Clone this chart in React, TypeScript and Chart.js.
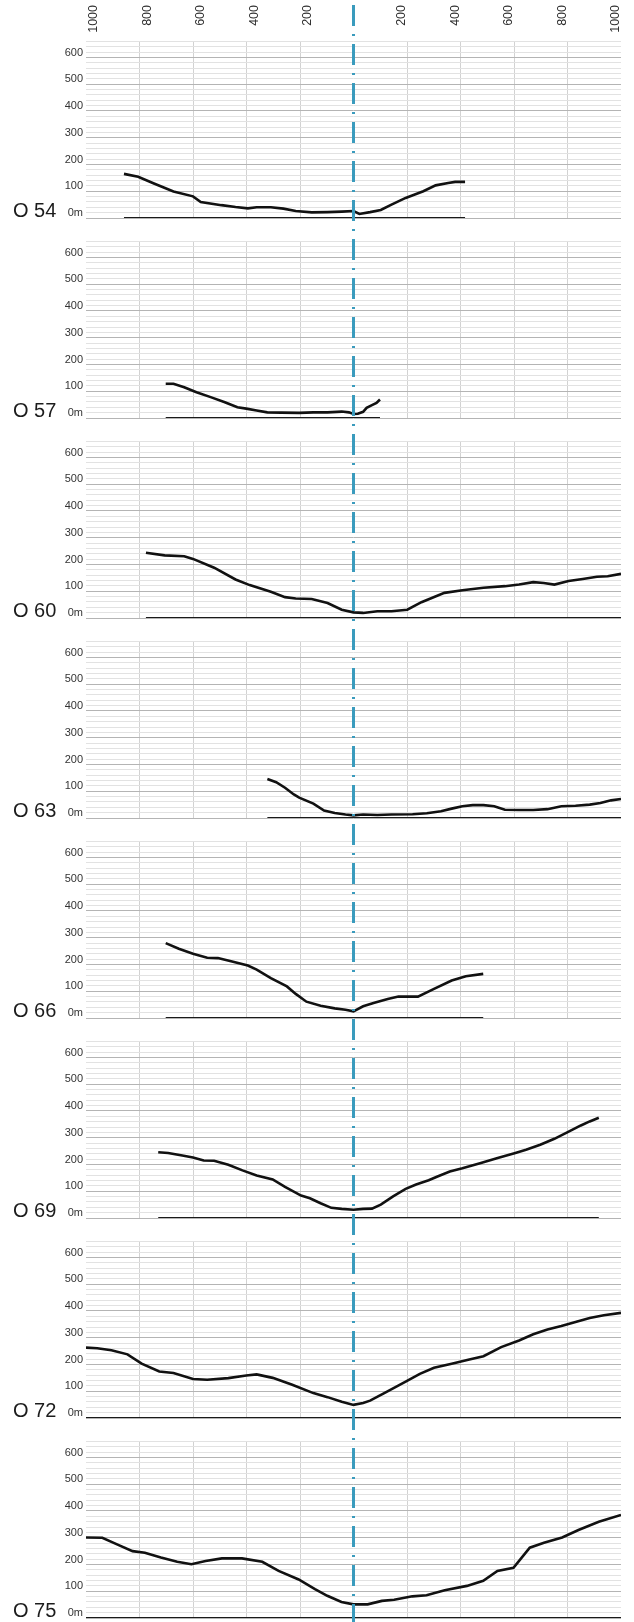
import React, { useEffect, useRef } from "react";
import { Chart, registerables } from "chart.js";

Chart.register(...registerables);

// ---- data ----
const sectionNames = ["O 54", "O 57", "O 60", "O 63", "O 66", "O 69", "O 72", "O 75"];
const distanceTicks = [-1000, -800, -600, -400, -200, 200, 400, 600, 800, 1000];

const o54Dist = [-858, -805, -746, -673, -600, -571, -494, -441, -395, -362, -309, -262, -216, -156, -97, -44, 0, 22, 62, 102, 142, 195, 261, 307, 354, 380, 417];
const o54Elev = [165, 154, 129, 99, 81, 60, 48, 41, 36, 40, 40, 35, 26, 21, 22, 24, 26, 15, 22, 30, 50, 75, 100, 122, 131, 135, 135];

const o57Dist = [-702, -673, -633, -587, -534, -481, -434, -401, -362, -322, -269, -203, -150, -97, -44, -17, 0, 16, 36, 49, 69, 86, 99];
const o57Elev = [128, 128, 115, 96, 78, 59, 40, 35, 28, 21, 20, 19, 21, 21, 24, 21, 15, 16, 23, 38, 48, 56, 69];

const o60Dist = [-776, -706, -633, -600, -521, -441, -388, -309, -256, -216, -156, -97, -44, 0, 36, 89, 142, 201, 254, 340, 407, 486, 566, 619, 672, 711, 751, 804, 857, 910, 950, 1000];
const o60Elev = [244, 234, 231, 221, 188, 144, 123, 98, 78, 73, 71, 56, 31, 21, 19, 25, 25, 31, 59, 94, 104, 113, 119, 125, 134, 131, 125, 138, 146, 154, 156, 165];

const o63Dist = [-322, -289, -256, -223, -203, -150, -110, -70, -30, 0, 36, 89, 142, 221, 274, 327, 367, 407, 446, 486, 526, 566, 619, 672, 725, 777, 830, 883, 923, 963, 1000];
const o63Elev = [146, 134, 113, 88, 76, 54, 28, 19, 13, 10, 13, 11, 13, 14, 18, 25, 35, 44, 48, 48, 44, 31, 30, 30, 33, 44, 46, 50, 56, 66, 71];

const o66Dist = [-702, -653, -600, -547, -507, -454, -395, -362, -309, -249, -216, -176, -123, -70, -30, 0, 36, 75, 128, 168, 241, 301, 367, 420, 485];
const o66Elev = [280, 259, 240, 225, 224, 211, 196, 181, 149, 118, 90, 61, 46, 36, 31, 25, 44, 56, 71, 80, 80, 109, 140, 156, 165];

const o69Dist = [-730, -693, -640, -600, -560, -521, -468, -415, -362, -302, -256, -196, -163, -123, -83, -44, 0, 36, 69, 102, 148, 195, 234, 281, 314, 360, 407, 473, 539, 605, 645, 698, 751, 797, 850, 883, 917];
const o69Elev = [246, 243, 234, 226, 215, 214, 199, 178, 159, 144, 116, 84, 74, 55, 38, 34, 31, 34, 35, 50, 81, 109, 125, 141, 155, 174, 186, 205, 224, 243, 255, 274, 296, 319, 346, 361, 375];

const o72Dist = [-1000, -958, -905, -845, -792, -726, -673, -600, -547, -468, -401, -362, -302, -229, -150, -97, -44, 0, 36, 62, 115, 195, 248, 301, 367, 433, 486, 552, 619, 672, 725, 777, 830, 883, 936, 1000];
const o72Elev = [263, 261, 253, 238, 203, 174, 168, 146, 143, 149, 159, 163, 150, 124, 93, 78, 61, 49, 56, 65, 93, 136, 165, 188, 203, 219, 231, 265, 290, 313, 331, 344, 359, 374, 384, 393];

const o75Dist = [-1000, -939, -886, -826, -780, -720, -659, -606, -553, -492, -417, -341, -280, -205, -144, -98, -45, 0, 53, 106, 152, 220, 273, 341, 424, 485, 538, 598, 659, 712, 780, 841, 917, 1000];
const o75Elev = [301, 300, 276, 250, 244, 226, 210, 201, 213, 223, 223, 210, 176, 144, 108, 83, 60, 51, 51, 64, 68, 81, 85, 104, 120, 139, 176, 188, 263, 281, 301, 329, 360, 385];

const sectionDists = [o54Dist, o57Dist, o60Dist, o63Dist, o66Dist, o69Dist, o72Dist, o75Dist];
const sectionElevs = [o54Elev, o57Elev, o60Elev, o63Elev, o66Elev, o69Elev, o72Elev, o75Elev];

// ---- style / layout ----
const FONT = '"Liberation Sans", Arial, sans-serif';
const TEAL = "#3a9bbd";
const WIDTH = 634;
const FIRST_H = 222;
const PANEL_H = 200;
const Y_MAX = 660;
const PX_PER_M = 0.2675;

function canvasTop(i: number) {
  return i === 0 ? 0 : FIRST_H + PANEL_H * (i - 1);
}
function canvasHeight(i: number) {
  return i === 0 ? FIRST_H : PANEL_H;
}

function makeOverlay(index: number) {
  return {
    id: "overlay" + index,
    afterDraw(chart: any) {
      const { ctx, scales } = chart;
      const x = scales.x;
      const y = scales.y;
      const cx = x.getPixelForValue(0);
      const base = y.getPixelForValue(0);

      // section name
      ctx.save();
      ctx.fillStyle = "#1c1c1c";
      ctx.font = "20px " + FONT;
      ctx.textAlign = "left";
      ctx.textBaseline = "alphabetic";
      ctx.fillText(sectionNames[index], 13, base - 1.5);
      ctx.restore();

      // top distance labels
      if (index === 0) {
        ctx.save();
        ctx.fillStyle = "#2e2e2e";
        ctx.font = "12.5px " + FONT;
        ctx.textAlign = "right";
        ctx.textBaseline = "middle";
        distanceTicks.forEach((v) => {
          const px = x.getPixelForValue(v) + (v < 0 ? 8 : -5);
          ctx.save();
          ctx.translate(px, 5);
          ctx.rotate(-Math.PI / 2);
          ctx.fillText(String(Math.abs(v)), 0, 0);
          ctx.restore();
        });
        ctx.restore();
      }

      // centre axis dash-dot line
      const top = canvasTop(index);
      const startY = index === 0 ? 5 : 0;
      ctx.save();
      ctx.strokeStyle = TEAL;
      ctx.lineWidth = 3;
      ctx.lineCap = "butt";
      ctx.setLineDash([21, 8, 2, 8]);
      ctx.lineDashOffset = index === 0 ? 0 : top - 5;
      ctx.beginPath();
      ctx.moveTo(cx, startY);
      ctx.lineTo(cx, chart.height);
      ctx.stroke();
      ctx.restore();
    },
  };
}

function Panel({ index }: { index: number }) {
  const ref = useRef<HTMLCanvasElement | null>(null);
  useEffect(() => {
    if (!ref.current) return;
    const dist = sectionDists[index];
    const elev = sectionElevs[index];
    const h = canvasHeight(index);
    const bottomPad = 4;
    const plotH = Y_MAX * PX_PER_M;
    const topPad = h - bottomPad - plotH;
    const chart = new Chart(ref.current, {
      type: "line",
      data: {
        datasets: [
          {
            data: dist.map((d, i) => ({ x: d, y: elev[i] })),
            borderColor: "#111",
            borderWidth: 2.6,
            pointRadius: 0,
            tension: 0,
            fill: false,
          },
          {
            data: [
              { x: dist[0], y: 0 },
              { x: dist[dist.length - 1], y: 0 },
            ],
            borderColor: "#1a1a1a",
            borderWidth: 2,
            pointRadius: 0,
            fill: false,
          },
        ],
      },
      options: {
        responsive: false,
        animation: false,
        events: [],
        layout: { padding: { top: topPad, bottom: bottomPad, left: 0, right: 13 } },
        plugins: { legend: { display: false }, tooltip: { enabled: false } },
        scales: {
          x: {
            type: "linear",
            position: "top",
            min: -1000,
            max: 1000,
            ticks: { display: false, stepSize: 200 },
            grid: {
              drawTicks: false,
              lineWidth: 1,
              color: (c: any) => {
                const v = c.tick ? c.tick.value : 0;
                return v === 0 || Math.abs(v) === 1000 ? "rgba(0,0,0,0)" : "#d2d2d2";
              },
            },
            border: { display: false },
            afterFit: (s: any) => {
              s.height = 0;
              s.paddingLeft = 0;
              s.paddingRight = 0;
            },
          },
          y: {
            type: "linear",
            min: 0,
            max: Y_MAX,
            ticks: {
              stepSize: 20,
              autoSkip: false,
              padding: 3,
              labelOffset: -5,
              color: "#333",
              font: { family: FONT, size: 11 },
              callback: (v: any) => {
                const n = Number(v);
                if (n % 100 !== 0) return "";
                return n === 0 ? "0m" : String(n);
              },
            },
            grid: {
              drawTicks: false,
              lineWidth: 1,
              color: (c: any) => {
                const v = c.tick ? c.tick.value : 0;
                return v % 100 === 0 ? "#b4b4b4" : "#e2e2e2";
              },
            },
            border: { display: false },
            afterFit: (s: any) => {
              s.width = 86;
              s.paddingTop = 0;
              s.paddingBottom = 0;
            },
          },
        },
      },
      plugins: [makeOverlay(index)],
    } as any);
    return () => chart.destroy();
  }, [index]);
  return (
    <canvas
      ref={ref}
      width={WIDTH}
      height={canvasHeight(index)}
      style={{ display: "block", width: WIDTH, height: canvasHeight(index) }}
    />
  );
}

export default function App() {
  return (
    <div style={{ position: "absolute", left: 0, top: 0, width: WIDTH, background: "#fff" }}>
      {sectionNames.map((_, i) => (
        <Panel key={i} index={i} />
      ))}
    </div>
  );
}
